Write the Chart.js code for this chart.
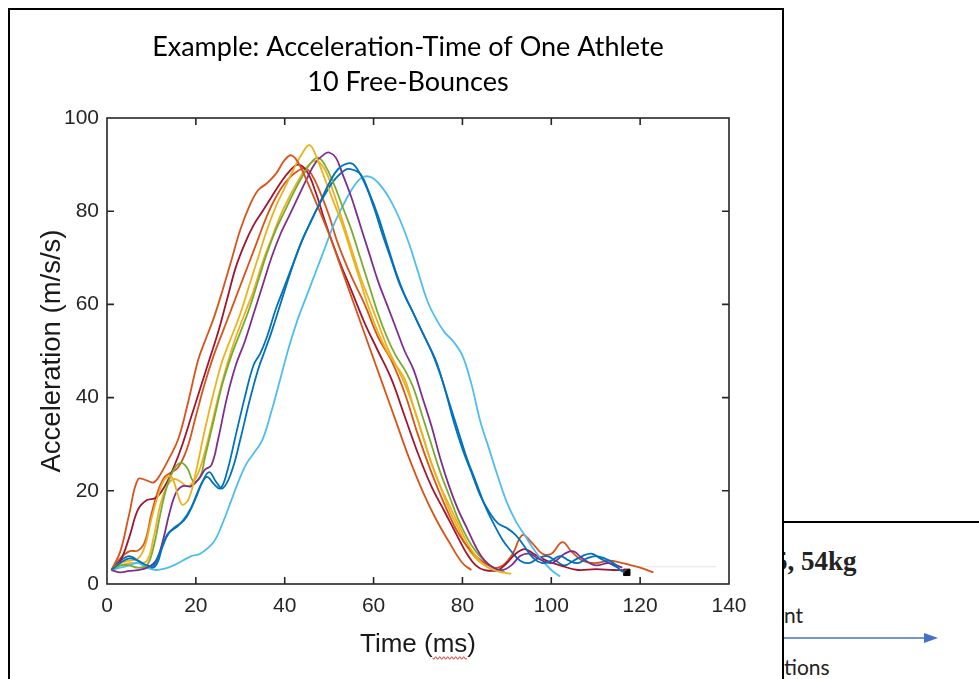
<!DOCTYPE html>
<html>
<head>
<meta charset="utf-8">
<script src="https://cdn.jsdelivr.net/npm/chart.js@4.4.1/dist/chart.umd.min.js"></script>
<style>
  html, body { margin: 0; padding: 0; background: #fff; width: 979px; height: 679px; overflow: hidden; }
  body { position: relative; font-family: Lato, "Open Sans", sans-serif; }
  #frame { position: absolute; left: 8px; top: 8px; width: 776px; height: 700px; border: 2px solid #000; border-bottom: none; box-sizing: border-box; }
  #panelLine { position: absolute; left: 783px; top: 521px; width: 196px; height: 2px; background: #000; }
  #chartBox { position: absolute; left: 0; top: 0; width: 816px; height: 679px; }
  .clip { position: absolute; left: 784px; overflow: hidden; white-space: nowrap; }
  #weight { top: 546px; width: 195px; height: 36px; font: bold 27px "Liberation Serif", "DejaVu Serif", serif; color: #222; }
  #weight span { position: absolute; left: -10px; top: 0; }
  #ment { top: 602px; font-size: 21px; color: #222; }
  #actions { top: 654px; font-size: 21px; color: #222; }
  #arrow { position: absolute; left: 784px; top: 630px; }
</style>
</head>
<body>
<div id="frame"></div>
<div id="panelLine"></div>
<div class="clip" id="weight"><span>5, 54kg</span></div>
<div class="clip" id="ment">nt</div>
<div class="clip" id="actions">tions</div>
<svg id="arrow" width="160" height="16"><line x1="0" y1="8" x2="142" y2="8" stroke="#4472C4" stroke-width="1.5"/><polygon points="140,3 154,8 140,13" fill="#4472C4"/></svg>
<div id="chartBox"><canvas id="accChart"></canvas></div>

<script>
// Aceleração x tempo: 10 saltos livres de um atleta

const b1Time = [1,3,5,7,9,10.5,12,13.5,15,17,19,21,22.5,24,25.5,27,29,31,33,34.5,36,38,40,42,44,46,48,50,52,54.5,56,58,60,62,64,66,68,70,72,74,76,78,80,82,84,86,88,90,92,94,96,98,100,102,104,106,108,110,112,114,115.5,116.5];
const b1Acc  = [3,4.5,5.5,5,4,4,7,10.5,12,13.5,16.5,21,23,21.5,20.5,24,32,40,47,49.5,53,59,64,69,74,78,82,86,89,90.3,89.5,86,81,75,69.5,64,60,56,52,48,42,35,29,24,19,15.5,13,12,10.5,8,5.5,4.5,5,6,5,4.5,5.5,6,5.5,4.5,3,2.5];

const b2Time = [1,3,5,7,9,10.5,12,14,16,18,20.5,22,24,26,28,30,32,34,36,38,40,41.5,43,45,47,50,53,56,59,62,65,68,71,74,77,80,82];
const b2Acc  = [3,7,15,22.5,22.2,21.8,23.5,27,31,38,48,52,57,63,69.5,76,81,84.5,86,88,91,92,90.5,86.5,82,75,67,59,51,43,35,27,20,14,9,4.5,3];

const b3Time = [1,3,5,7,8.5,10,11.5,13,14.5,16,17,18.5,20,22,24,26,28,30,32,34,36,38,40,42,44,45.6,47,49,51,53,55,57,59,61,63,65,67,69,71,73,75,77,79,81,83,85,87,89,91];
const b3Acc  = [3,4.5,5,5.5,8,14,19,22.5,23,19,17,18.5,24,33,41,48,53,58,64,70,76,81,85,89,92.5,94.2,92,87,82,77,71,65,59,54,50,47,44,38,32,26,21,17,13,9,6,4,3,2.5,2.2];

const b4Time = [1,3,5,7,9,11,12.5,14,15.5,17,19,21,22,23.5,25,27,29,31,33,35,37,39,41,43,45,47,49,50,51.5,53,55,57,59,61,63,65,67,69,71,73,75,77,79,81,83,85,87,89,91,93,95,97,100,103,105,107,110,113,116];
const b4Acc  = [3,2.5,2.8,3,3.5,5,9,15,19.5,21,21,23,24.5,25.5,31,40,47,52,58,64,70,75,79,83,87,90.5,92.3,92.6,91.5,88,83,77,71,65,60,55,50,46,40,34,27,21,16,12,8,5,3.5,3,4,6,6.5,5.5,4.5,6.5,7,5.5,4,4.5,3.5];

const b5Time = [1,3,5,7,9,10.5,12,13.5,15,16.5,18,19.5,21,22,24,26,28,30,32,34,36,38,40,42,44,46,47.5,49,51,53,55,57,59,61,63,65,67,69,71,73,75,77,79,81,83,85,87,89.5];
const b5Acc  = [3,4,4,3.5,4,8,15,21,24.5,26,25,22,23,27,35,43,49,54,59,65,71,76,80,84,87.5,90.5,91.5,90,86,81,76,70,64,58,53,49,46,42,36,30,24,19,14,10,7,5,3.5,2.6];

const b6Time = [1,3,5,7,9,11,13,15,17,19,21,24,26,28,30,31.5,33,35,37,39,41,43,45,47,49,51,53,55,57,58.5,60,62,64,66,68,70,72,74,76,78,80,82,84,86,88,90,92,94,96,98,100,102];
const b6Acc  = [3,3.5,4,4.5,3.5,3,3.3,4,5,6,6.5,9,13,18,23,26,28,31,37,44,51,57,62,67,72,77,81,84.5,87,87.5,87,85,82,78,73,67,61,57,54,52,49,43,35,29,23,17.5,13.5,10.5,7.5,5,3,1.6];

const b7Time = [1,3,5,7,9,11,13,15,17,19,21,23,25,27,29,31,33,35,37,39,41,43,45,47,49,52,55,58,61,64,67,70,73,76,79,81,83,85,88,90,92,94,96,99,102,106,110,114,117];
const b7Acc  = [3,5,10,16,18,18.5,21,25,30,36,42,48,54,61,68,73,77,80,83,86,88.5,90,88.5,84,78,70,63,56,50,44,36,28,21,15.5,10,6.5,4,3,3,4.5,6.5,7.5,6.5,5,4,3,3.2,3,3];

const b8Time = [1,3,5,7,9,11,12.5,14,16,18,20,21.5,23,24.5,26,28,30,32,34,35.5,37,39,41,43,45,47,49,51,53.5,55,57,59,61,63,65,67,69,71,73,75,77,79,81,83,85,87,89,91,93,95,97,99,101,103,105,107,109,111,113,115];
const b8Acc  = [3,5,6,5,3.5,4,8,11,12.5,14.5,18.5,22,24,22,20.5,24,31,39,46,50,54,60,66,71.5,76,80,83.5,86.5,88.8,89,88,84,79,73,67,62,58,54,50,45,39,33,27,22,17,13,9.5,7,5,4.5,5.5,6,5,4,5,6,6.5,5.5,4.5,3.5];

const b9Time = [1,3,5,7,8.5,10,11.5,13,14.5,16,18,20,22,24,26,28,30,32,34,36,38,40,42,44.5,46,48,50,52,55,58,61,64,67,70,73,76,79,82,85,88,91,93.5,95.5,98,100,102.5,104.5,107,110,113,116,118,120,123];
const b9Acc  = [3,5.5,7,7.2,9,15,20,23,24,25,29,36,43,49,54,59,64,69,74,79,83,86,88,89.2,88,84,79,73,66,60,53,48,41,32,24,17,11,7,4.5,3.5,6,10.5,9,6.5,6.5,9,7,5,4.5,5,4.5,4,3.5,2.5];

const b10Time = [1,3,5,7,9,10.5,12,13.5,15,16.5,18,19.5,21,23,25,27,29,31,33,35,37,39,41,43,45,47,49,51,53,55,57,59,61,63,65,67,69,71,73,75,77,79,81,83,85,87,89];
const b10Acc  = [3,4,4.5,4.5,5,10,17,21,22.5,22,21,22,25,32,40,47,53,58,63,69,74,79,83,86.5,89.5,90.8,89,84,78,72,66,61,56,51,47,43,38,32,26,21,16,12,8,5.5,4,3,2.5];

// marcador preto no fim e traço cinza fraco
const markerTime = [117];
const markerAcc = [2.5];
const faintTime = [118.5, 137];
const faintAcc = [3.7, 3.7];

const bounceColors = ['#0072BD','#D95319','#EDB120','#7E2F8E','#77AC30','#4DBEEE','#A2142F','#0072BD','#D95319','#EDB120'];

const titleLines = ['Example: Acceleration-Time of One Athlete', '10 Free-Bounces'];
const xTitle = 'Time (ms)';
const yTitle = 'Acceleration (m/s/s)';

const axisFont = 'Liberation Sans';
const xTitleSize = 26, xTitleLH = 1.2, xTitlePadBottom = 18.4;

const bounces = [
    [b1Time, b1Acc], [b2Time, b2Acc], [b3Time, b3Acc], [b4Time, b4Acc], [b5Time, b5Acc],
    [b6Time, b6Acc], [b7Time, b7Acc], [b8Time, b8Acc], [b9Time, b9Acc], [b10Time, b10Acc]
];

const toPoints = (t, a) => t.map((v, i) => ({ x: v, y: a[i] }));

const datasets = bounces.map(([t, a], i) => ({
    label: 'Bounce ' + (i + 1),
    data: toPoints(t, a),
    borderColor: bounceColors[i],
    borderWidth: 1.8,
    pointRadius: 0,
    tension: 0.4,
    fill: false
}));

datasets.push({
    label: 'faint',
    data: toPoints(faintTime, faintAcc),
    borderColor: '#e4e4e4',
    borderWidth: 1,
    pointRadius: 0
});
datasets.push({
    label: 'end',
    data: toPoints(markerTime, markerAcc),
    showLine: false,
    pointStyle: 'rect',
    pointRadius: 4.5,
    backgroundColor: '#000',
    borderColor: '#000'
});

// caixa estilo MATLAB com ticks para dentro + sublinhado do corretor em "ms"
const matlabBox = {
    id: 'matlabBox',
    afterDatasetsDraw(chart) {
        const { ctx, chartArea: area, scales } = chart;
        const x = scales.x, y = scales.y;
        ctx.save();
        ctx.strokeStyle = '#262626';
        ctx.lineWidth = 1.6;
        ctx.strokeRect(area.left, area.top, area.right - area.left, area.bottom - area.top);
        ctx.beginPath();
        x.ticks.forEach(t => {
            if (t.value <= x.min || t.value >= x.max) return;
            const px = x.getPixelForValue(t.value);
            ctx.moveTo(px, area.bottom); ctx.lineTo(px, area.bottom - 7);
            ctx.moveTo(px, area.top); ctx.lineTo(px, area.top + 7);
        });
        y.ticks.forEach(t => {
            if (t.value <= y.min || t.value >= y.max) return;
            const py = y.getPixelForValue(t.value);
            ctx.moveTo(area.left, py); ctx.lineTo(area.left + 7, py);
            ctx.moveTo(area.right, py); ctx.lineTo(area.right - 7, py);
        });
        ctx.stroke();

        // linha ondulada vermelha
        ctx.font = xTitleSize + 'px "' + axisFont + '"';
        const full = ctx.measureText(xTitle).width;
        const before = ctx.measureText('Time (').width;
        const msW = ctx.measureText('ms').width;
        const cx = (x.left + x.right) / 2;
        const cy = x.bottom - xTitleSize * xTitleLH / 2 - xTitlePadBottom;
        const x0 = cx - full / 2 + before;
        const yy = cy + 13;
        ctx.strokeStyle = '#e0302a';
        ctx.lineWidth = 1;
        ctx.beginPath();
        for (let s = 0; s <= msW; s += 1) {
            const v = yy + Math.sin(s * Math.PI / 2) * 1.3;
            if (s === 0) ctx.moveTo(x0 + s, v); else ctx.lineTo(x0 + s, v);
        }
        ctx.stroke();
        ctx.restore();
    }
};

const ctx = document.getElementById('accChart').getContext('2d');
new Chart(ctx, {
    type: 'line',
    data: { datasets: datasets },
    options: {
        responsive: true,
        maintainAspectRatio: false,
        animation: false,
        layout: { padding: 0 },
        plugins: {
            legend: { display: false },
            tooltip: { enabled: false },
            title: {
                display: true,
                text: titleLines,
                color: '#000',
                font: { family: 'Lato', size: 27, weight: 'normal', lineHeight: 1.3 },
                padding: { top: 29.45, bottom: 18.35 }
            }
        },
        scales: {
            x: {
                type: 'linear',
                min: 0,
                max: 140,
                grid: { display: false, drawTicks: false },
                border: { display: false },
                ticks: {
                    stepSize: 20,
                    padding: 10,
                    maxRotation: 0,
                    color: '#262626',
                    font: { family: axisFont, size: 21 }
                },
                title: {
                    display: true,
                    text: xTitle,
                    color: '#1a1a1a',
                    font: { family: axisFont, size: xTitleSize, lineHeight: xTitleLH },
                    padding: { top: 0, bottom: xTitlePadBottom }
                },
                afterFit(scale) { scale.height = 95; }
            },
            y: {
                min: 0,
                max: 100,
                grid: { display: false, drawTicks: false },
                border: { display: false },
                ticks: {
                    stepSize: 20,
                    padding: 8,
                    color: '#262626',
                    font: { family: axisFont, size: 21 }
                },
                title: {
                    display: true,
                    text: yTitle,
                    color: '#1a1a1a',
                    font: { family: axisFont, size: 27.5, lineHeight: 1.2 },
                    padding: { top: 35.5, bottom: 0 }
                },
                afterFit(scale) { scale.width = 107; }
            },
            y2: {
                position: 'right',
                min: 0,
                max: 100,
                grid: { display: false, drawTicks: false },
                border: { display: false },
                ticks: { display: false },
                afterFit(scale) { scale.width = 87; }
            }
        }
    },
    plugins: [matlabBox]
});
</script>
</body>
</html>
